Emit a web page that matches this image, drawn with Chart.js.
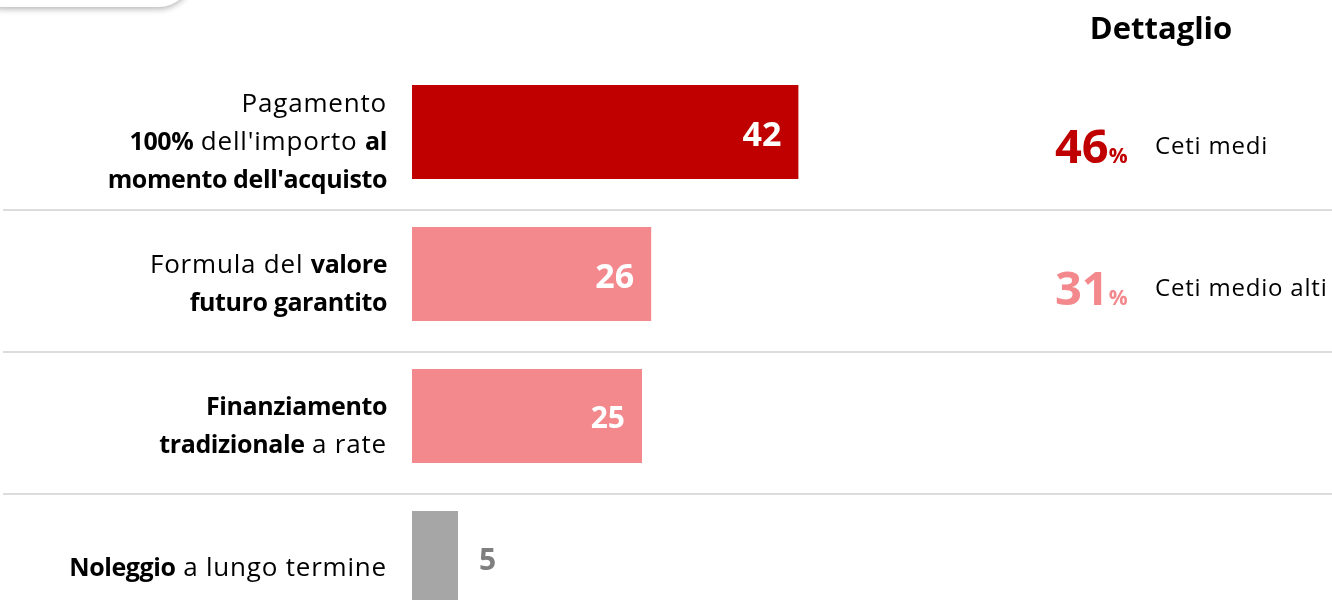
<!DOCTYPE html>
<html>
<head>
<meta charset="utf-8">
<script src="https://cdn.jsdelivr.net/npm/chart.js@4.4.1/dist/chart.umd.min.js"></script>
<style>
  html, body { margin: 0; padding: 0; background: #fff; overflow: hidden; }
  #wrap { width: 1332px; height: 600px; overflow: hidden; position: relative; }
  #wrap canvas { position: absolute; left: 0; top: 0; }
</style>
</head>
<body>
<div id="wrap"><canvas id="chartCanvas"></canvas></div>
<script>
// category labels: each line is a list of [text, bold] pieces
const categories = [
    [[["Pagamento", false]], [["100%", true], [" dell'importo ", false], ["al", true]], [["momento dell'acquisto", true]]],
    [[["Formula del ", false], ["valore", true]], [["futuro garantito", true]]],
    [[["Finanziamento", true]], [["tradizionale", true], [" a rate", false]]],
    [[["Noleggio", true], [" a lungo termine", false]]]
];
const values = [42, 26, 25, 5];
const barColors = ["#c00000", "#f3898d", "#f3898d", "#a6a6a6"];

const detailTitle = "Dettaglio";
const detailValues = [46, 31];
const detailLabels = ["Ceti medi", "Ceti medio alti"];
const detailColors = ["#c00000", "#f3898d"];

const FONT = "'Open Sans', sans-serif";

// regular text is a bit wider in the original font than in Open Sans
function setFont(ctx, bold) {
    if (bold) {
        ctx.font = "bold 25px " + FONT;
        ctx.letterSpacing = "-0.4px";
    } else {
        ctx.font = "26px " + FONT;
        ctx.letterSpacing = "0.8px";
    }
}

// draws the labels, separators and the side panel
const decorPlugin = {
    id: "decor",
    afterDraw(chart) {
        const ctx = chart.ctx;
        const y = chart.scales.y;
        const x = chart.scales.x;
        ctx.save();

        // rounded tab at top left
        ctx.shadowColor = "rgba(0,0,0,0.3)";
        ctx.shadowBlur = 6;
        ctx.shadowOffsetY = 2;
        ctx.fillStyle = "#fff";
        ctx.beginPath();
        ctx.roundRect(-30, -60, 222, 67, 34);
        ctx.fill();
        ctx.shadowColor = "transparent";

        // separators
        ctx.strokeStyle = "#dcdcdc";
        ctx.lineWidth = 2;
        for (let i = 0; i < values.length - 1; i++) {
            const sy = Math.round(y.getPixelForValue(i) + 78);
            ctx.beginPath();
            ctx.moveTo(3, sy);
            ctx.lineTo(chart.width, sy);
            ctx.stroke();
        }

        // category labels
        ctx.textBaseline = "alphabetic";
        ctx.textAlign = "left";
        ctx.fillStyle = "#000";
        categories.forEach((lines, i) => {
            const cy = y.getPixelForValue(i);
            const pitch = 38;
            const first = cy + 18 - (lines.length - 1) * pitch / 2;
            lines.forEach((pieces, li) => {
                let total = 0;
                pieces.forEach(p => {
                    setFont(ctx, p[1]);
                    total += ctx.measureText(p[0]).width;
                });
                let px = 387 - total;
                pieces.forEach(p => {
                    setFont(ctx, p[1]);
                    ctx.fillText(p[0], px, first + li * pitch);
                    px += ctx.measureText(p[0]).width;
                });
            });
        });
        ctx.letterSpacing = "0px";

        // bar values
        values.forEach((v, i) => {
            const cy = y.getPixelForValue(i);
            const end = x.getPixelForValue(v);
            const big = v >= 26;
            ctx.font = "bold " + (big ? 34 : 30) + "px " + FONT;
            if (v >= 10) {
                ctx.fillStyle = "#fff";
                ctx.textAlign = "right";
                ctx.fillText(String(v), end - 17, cy + (big ? 14 : 12));
            } else {
                ctx.fillStyle = "#7f7f7f";
                ctx.textAlign = "left";
                ctx.fillText(String(v), end + 21, cy + 12);
            }
        });

        // side panel
        ctx.fillStyle = "#000";
        ctx.textAlign = "center";
        ctx.font = "bold 31px " + FONT;
        ctx.fillText(detailTitle, 1161, 39);

        detailValues.forEach((v, i) => {
            const base = y.getPixelForValue(i) + 31;
            ctx.textAlign = "left";
            ctx.fillStyle = detailColors[i];
            ctx.font = "bold 47px " + FONT;
            ctx.fillText(String(v), 1055, base);
            const w = ctx.measureText(String(v)).width;
            ctx.font = "bold 21px " + FONT;
            ctx.fillText("%", 1055 + w, base);
            ctx.fillStyle = "#000";
            ctx.font = "24px " + FONT;
            ctx.letterSpacing = "0.8px";
            ctx.fillText(detailLabels[i], 1155, base - 9);
            ctx.letterSpacing = "0px";
        });

        ctx.restore();
    }
};

function drawChart() {
    const canvas = document.getElementById("chartCanvas");
    canvas.width = 1332;
    canvas.height = 640;
    const ctx = canvas.getContext("2d");

    new Chart(ctx, {
        type: "bar",
        data: {
            labels: categories.map(c => c.map(l => l.map(p => p[0]).join(""))),
            datasets: [{
                data: values,
                backgroundColor: barColors,
                borderWidth: 0,
                barPercentage: 0.662,
                categoryPercentage: 1
            }]
        },
        options: {
            indexAxis: "y",
            responsive: false,
            animation: false,
            layout: { padding: { left: 412, top: 61, right: 0, bottom: 11 } },
            plugins: {
                legend: { display: false },
                tooltip: { enabled: false }
            },
            scales: {
                x: { display: false, min: 0, max: 100 },
                y: { display: false }
            }
        },
        plugins: [decorPlugin]
    });
}

drawChart();
</script>
</body>
</html>
